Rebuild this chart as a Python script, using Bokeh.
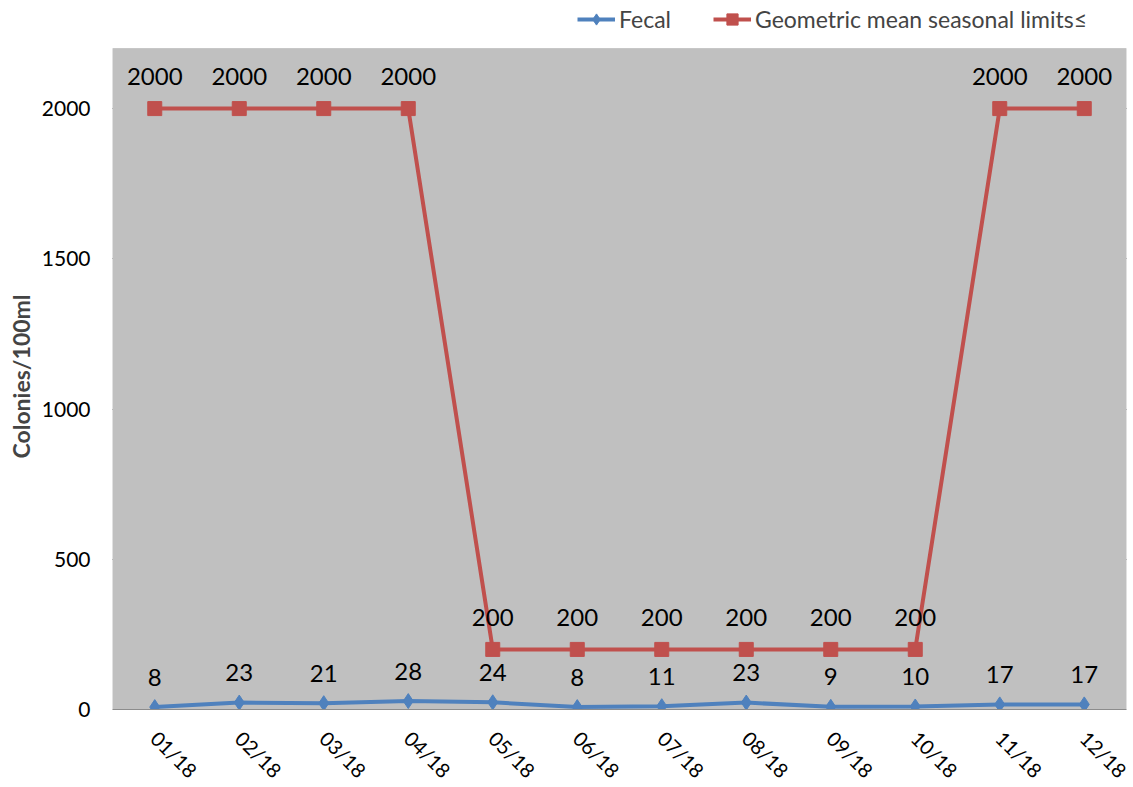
from bokeh.plotting import figure
from bokeh.models import (ColumnDataSource, FixedTicker, Legend, LegendItem,
                          LabelSet, Range1d, BoxAnnotation, Title)
from bokeh.core.properties import value
from bokeh.embed import file_html
from bokeh.resources import INLINE
import math

# Monthly sample data
months = ["01/18", "02/18", "03/18", "04/18", "05/18", "06/18",
          "07/18", "08/18", "09/18", "10/18", "11/18", "12/18"]
fecal = [8, 23, 21, 28, 24, 8, 11, 23, 9, 10, 17, 17]
limits = [2000, 2000, 2000, 2000, 200, 200, 200, 200, 200, 200, 2000, 2000]
y_ticks = [0, 500, 1000, 1500, 2000]
y_max = 2200

FONT = "Lato"
BLUE = "#4F81BD"
RED = "#C0504D"

src = ColumnDataSource(dict(
    m=months, fecal=fecal, limits=limits,
    fecal_txt=[str(v) for v in fecal],
    limits_txt=[str(v) for v in limits],
))

# The frame reaches the top of the canvas so the legend can sit above the
# shaded plot area; the shaded area itself stops at y_max.
FRAME_H = 709
PLOT_H = 661
p = figure(x_range=months, frame_width=1014, frame_height=FRAME_H,
           output_backend="svg", toolbar_location=None,
           min_border_left=110, min_border_right=7,
           min_border_top=0, min_border_bottom=76)
p.y_range = Range1d(0, y_max * FRAME_H / PLOT_H)

p.border_fill_color = "white"
p.background_fill_color = "white"
p.outline_line_color = None

# Shaded plot area with its edge line
p.add_layout(BoxAnnotation(top=y_max, fill_color="#C0C0C0", fill_alpha=1,
                           line_color="#929292", line_width=1,
                           level="underlay"))

# Axes
p.yaxis.ticker = FixedTicker(ticks=y_ticks)
p.yaxis.major_label_text_font = FONT
p.yaxis.major_label_text_font_size = "21px"
p.yaxis.major_label_text_color = "black"
p.yaxis.major_label_standoff = 22
p.yaxis.major_tick_out = 0
p.yaxis.major_tick_in = 0
p.yaxis.minor_tick_out = 0
p.yaxis.minor_tick_in = 0
p.yaxis.axis_line_color = None

p.add_layout(Title(text="Colonies/100ml", align="left", offset=251,
                   text_font=FONT, text_font_style="bold",
                   text_font_size="23px", standoff=8), "left")

p.xaxis.major_label_text_font = FONT
p.xaxis.major_label_text_font_size = "20px"
p.xaxis.major_label_text_color = "black"
p.xaxis.major_label_orientation = -math.pi / 4
p.xaxis.major_label_standoff = 25
p.xaxis.major_tick_out = 0
p.xaxis.major_tick_in = 0
p.xaxis.axis_line_color = "#8C8C8C"

p.xgrid.grid_line_color = None
p.ygrid.ticker = FixedTicker(ticks=[500, 1000, 1500, 2000])
p.ygrid.grid_line_color = "black"
p.ygrid.grid_line_width = 1

# Series
r_line = p.line("m", "limits", source=src, line_color=RED, line_width=4)
r_pts = p.scatter("m", "limits", source=src, marker="square", size=14,
                  fill_color=RED, line_color=RED)
f_line = p.line("m", "fecal", source=src, line_color=BLUE, line_width=4)
f_pts = p.scatter("m", "fecal", source=src, marker="diamond", size=15,
                  fill_color=BLUE, line_color=BLUE)

# Data labels
p.add_layout(LabelSet(x="m", y="limits", text="limits_txt", source=src,
                      y_offset=32, text_align="center", text_baseline="middle",
                      text_font=value(FONT), text_font_size=value("24px"),
                      text_color="black"))
p.add_layout(LabelSet(x="m", y="fecal", text="fecal_txt", source=src,
                      y_offset=30, text_align="center", text_baseline="middle",
                      text_font=value(FONT), text_font_size=value("24px"),
                      text_color="black"))

legend = Legend(items=[
    LegendItem(label="Fecal", renderers=[f_line, f_pts]),
    LegendItem(label="Geometric mean seasonal limits≤", renderers=[r_line, r_pts]),
], orientation="horizontal", location=(465, 676),
    label_text_font=FONT, label_text_font_size="23px",
    glyph_width=38, glyph_height=28, label_height=28,
    label_standoff=4, spacing=42,
    padding=0, margin=0, border_line_color=None,
    background_fill_alpha=0)
p.add_layout(legend)

open("out.html", "w").write(file_html(p, INLINE))
